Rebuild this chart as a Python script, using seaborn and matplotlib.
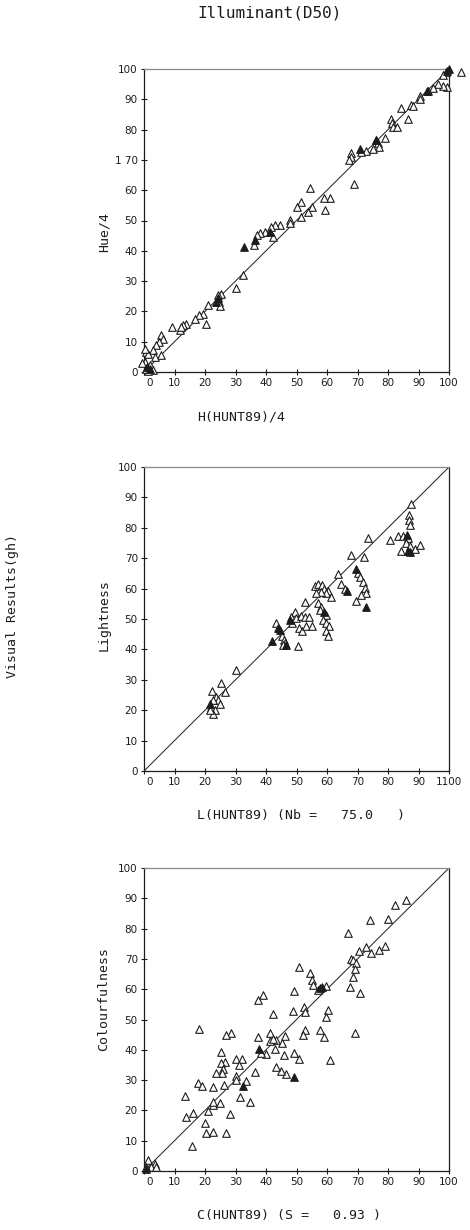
"""
Hunt89 colour appearance model vs. visual results, D50 illuminant.
Three stacked scatter panels: hue, lightness, colourfulness.
"""
import matplotlib
matplotlib.use('Agg')
import matplotlib.pyplot as plt
import matplotlib.transforms as mtransforms
import pandas as pd
import seaborn as sns

# axis ticks / labels
TICKS = list(range(0, 101, 10))
DIAG = [0, 100]
X_LABELS = [str(t) for t in TICKS]
X_LABELS_L = X_LABELS[:-1] + ['1100']
Y_LABELS = [str(t) for t in TICKS]
Y_LABELS_H = Y_LABELS[:7] + ['1 70'] + Y_LABELS[8:]

# Hue panel (H(HUNT89)/4 vs Hue/4)
HUE_X = [104, 99, 98, 99.5, 98, 96.4, 94.8, 93, 90.4, 90.4,
         87.6, 88.2, 84.4, 86.6, 80.9, 81.2, 81.6, 83, 78.9, 76.2,
         76.7, 77.2, 75, 72.9, 71, 68, 68, 67.3, 69, 60.9,
         58.9, 59.2, 54.3, 51.4, 50, 55, 53.8, 51.6, 47.8, 44.5,
         42.8, 41.7, 42.3, 39.6, 37.9, 36.9, 32.5, 30.3, 25.4, 24.6,
         24.8, 21, 20.2, 19.3, 18, 16.6, 13.9, 12.8, 11.7, 9.3,
         5.7, 6.2, 4.9, 4, 3, 0.8, 1.3, 5.7, 3.5, 0.2,
         1.9, 3, 1.3, -0.5, 12.2, 24.3, 47.8, 36, 0.3, 0.8]
HUE_Y = [99, 98.9, 98.1, 94, 94.5, 95.1, 93.7, 92.6, 91, 90.1,
         88, 87.7, 87.1, 83.4, 83.4, 82.1, 81, 81, 77.2, 76.6,
         75.5, 74.2, 73.5, 73.1, 72.5, 72.4, 71.1, 70, 62, 57.3,
         57.3, 53.5, 60.6, 56.2, 54.6, 54.6, 52.9, 51.3, 50.2, 48.5,
         48.5, 48, 44.7, 46.3, 45.8, 45.2, 32, 27.6, 25.9, 23.2,
         21.7, 22, 16, 19.3, 18.7, 17.6, 16, 15.4, 13.8, 14.9,
         12.1, 11, 9.9, 8.8, 7.4, 6.6, 6.1, 5.5, 5, 3.3,
         2.2, 0.8, 0.3, 3, 14.9, 25.4, 49.1, 41.9, 7.6, 1.1]
HUE_SOLID_X = [100, 99.5, 92.7, 76, 70.7, 41.2, 36.3, 32.7, 24.3, 23.7, 1, 2]
HUE_SOLID_Y = [100, 99.2, 92.8, 76.6, 73.5, 46.3, 43.5, 41.3, 24.3, 23.2, 1.5, 1]

# Lightness panel
LIG_X = [63.6, 64.7, 65.8, 70.2, 70.9, 71.8, 72.4, 72.9, 71.3, 69.6,
         56, 57.1, 58.5, 58.9, 60.3, 61.4, 59.8, 58.1, 56.3, 57.1,
         58.1, 57.8, 59.6, 58.7, 59.8, 60.7, 59.8, 60.3, 52.7, 49.4,
         48.3, 48.6, 49.9, 51.6, 52.7, 54.1, 50.8, 51.8, 53.2, 55.2,
         50.5, 43.4, 45.4, 45.8, 46.2, 45.6, 30.3, 26.4, 25.3, 22.3,
         23.7, 24.3, 24.8, 22.6, 22.1, 23.2, 22.6, 21.5, 87.7, 87,
         87, 87.1, 83.3, 84.9, 86.5, 85.8, 87.1, 88.7, 90.6, 84.4,
         80.5, 73.4, 68, 72.1]
LIG_Y = [64.8, 61.5, 59.8, 65, 63.7, 62.3, 60.1, 58.7, 57.9, 56,
         60.7, 61.5, 61.2, 59.8, 59.3, 57.1, 58.5, 59, 58.5, 55.2,
         54.1, 53, 51.3, 49.7, 48.8, 47.7, 46.2, 44.4, 55.7, 52.4,
         50.8, 48.8, 50.2, 51, 50.8, 50.5, 46.9, 46.2, 47.7, 47.7,
         41.1, 48.8, 44.4, 43.1, 42, 41.4, 33.2, 26, 29, 26.3,
         24.4, 23.5, 22.2, 23.3, 21.1, 20, 18.9, 20, 87.7, 84.1,
         82.7, 80.9, 77.2, 77.2, 76.5, 75.1, 74, 72.9, 74.2, 72.4,
         76.1, 76.5, 71, 70.5]
LIG_SOLID_X = [66.6, 69.4, 72.9, 58.9, 47.8, 43.9, 44.5, 46.7, 42, 21.8, 86.2, 87.1, 86.5]
LIG_SOLID_Y = [59.3, 66.4, 53.8, 52.4, 49.7, 46.9, 46.4, 41.4, 42.7, 22.2, 77.6, 72.1, 72.3]

# Colourfulness panel
COL_X = [86, 82.2, 80, 74.2, 67, 68, 70.5, 72.9, 74.5, 77,
         79.1, 68.5, 69.4, 69.1, 68.5, 67.4, 70.7, 69.1, 59.8, 60.3,
         59.8, 58.9, 57.6, 60.9, 57.1, 54.5, 55.1, 55.4, 50.7, 49.2,
         48.9, 52.4, 52.7, 52.7, 52.1, 49.1, 50.7, 46.7, 45, 43.4,
         45.9, 45.4, 46.1, 43.4, 42.8, 42.3, 41.2, 41.4, 42.3, 40.1,
         39, 37.4, 37.4, 38.5, 36.3, 33.5, 31.4, 34.6, 30, 32,
         31.1, 30.2, 30.2, 28.6, 26.8, 25.4, 26.4, 25.4, 25.9, 25.7,
         23.5, 26.1, 22.6, 18, 17.7, 19.1, 13.3, 13.9, 16.1, 21,
         22.6, 22.6, 24.8, 28.3, 19.9, 20.2, 22.6, 26.8, 15.8, 1.3,
         3.5, 2.4, 0.8, 4]
COL_Y = [89.3, 87.7, 83.1, 83, 78.4, 70.1, 72.6, 74, 72, 72.9,
         74.3, 69.6, 68.5, 66.8, 64.1, 60.8, 58.8, 45.4, 61, 53.3,
         50.9, 44.1, 46.5, 36.6, 59.9, 65.4, 63.2, 61.3, 67.4, 59.5,
         52.9, 54.2, 52.5, 46.5, 44.8, 39, 36.8, 32, 33.1, 34.4,
         38.2, 42.3, 44.6, 43.2, 40.1, 51.8, 45.4, 43, 43.7, 38.5,
         58, 56.4, 44.1, 38.8, 32.7, 29.7, 24.5, 22.9, 37.1, 36.8,
         34.9, 31.3, 30, 45.6, 44.8, 39.3, 36, 35.5, 33.8, 32.2,
         32.4, 28.4, 27.6, 46.7, 29.1, 28, 24.7, 17.7, 19.2, 19.9,
         21.8, 22.9, 22.5, 18.8, 15.7, 12.4, 12.9, 12.4, 8.2, 3.6,
         2.3, 1.4, 1.4, 1.4]
COL_SOLID_X = [57.6, 58.3, 49.2, 37.7, 32.5, 0.8]
COL_SOLID_Y = [60.4, 60.8, 31.1, 40.1, 28, 0.5]

TITLE = 'Illuminant(D50)'
SIDE_LABEL = 'Visual Results(gh)'
X_TITLES = ['H(HUNT89)/4', 'L(HUNT89) (Nb =   75.0   )', 'C(HUNT89) (S =   0.93 )']
Y_TITLES = ['Hue/4', 'Lightness', 'Colourfulness']

sns.set_style('ticks')
plt.rcParams['font.family'] = ['DejaVu Sans Mono', 'DejaVu Sans']

INK = '#1c1c1c'
W, H = 470, 1230
fig = plt.figure(figsize=(W / 100, H / 100), dpi=100)

# pixel geometry of each panel: (top, bottom)
panels = [
    (69, 372, HUE_X, HUE_Y, HUE_SOLID_X, HUE_SOLID_Y, X_LABELS, Y_LABELS_H),
    (467, 771, LIG_X, LIG_Y, LIG_SOLID_X, LIG_SOLID_Y, X_LABELS_L, Y_LABELS),
    (868, 1171, COL_X, COL_Y, COL_SOLID_X, COL_SOLID_Y, X_LABELS, Y_LABELS),
]
left, right = 144, 449
shift = mtransforms.ScaledTranslation(6 / 100, 0, fig.dpi_scale_trans)

for i, (top, bot, xs, ys, sx, sy, xl, yl) in enumerate(panels):
    ax = fig.add_axes([left / W, 1 - bot / H, (right - left) / W, (bot - top) / H])
    open_df = pd.DataFrame({'x': xs, 'y': ys})
    solid_df = pd.DataFrame({'x': sx, 'y': sy})

    sns.lineplot(x=DIAG, y=DIAG, color=INK, lw=0.7, ax=ax)
    sns.scatterplot(data=open_df, x='x', y='y', marker='^', s=30, color='white',
                    edgecolor=INK, linewidth=0.8, clip_on=False, zorder=3, ax=ax)
    sns.scatterplot(data=solid_df, x='x', y='y', marker='^', s=30, color=INK,
                    edgecolor=INK, linewidth=0.8, clip_on=False, zorder=4, ax=ax)

    ax.set_xlim(0, 100)
    ax.set_ylim(0, 100)
    ax.set_xlabel('')
    ax.set_ylabel('')
    ax.set_xticks(TICKS)
    ax.set_xticklabels(xl, family='DejaVu Sans')
    ax.set_yticks(TICKS)
    ax.set_yticklabels(yl, family='DejaVu Sans')
    ax.tick_params(direction='inout', length=5, width=0.8, labelsize=7.5,
                   colors=INK, pad=2)
    lbl = ax.get_xticklabels()[0]
    lbl.set_transform(lbl.get_transform() + shift)

    for side, sp in ax.spines.items():
        sp.set_visible(True)
        sp.set_linewidth(0.9)
        sp.set_color('#8a8a8a' if side == 'top' else INK)

    fig.text(197 / W, 1 - (bot + 45) / H, X_TITLES[i], ha='left', va='center',
             fontsize=9.5, color=INK)
    fig.text(104 / W, 1 - (bot - 120) / H, Y_TITLES[i], rotation=90,
             ha='center', va='bottom', fontsize=9.5, color=INK)

fig.text(197 / W, 1 - 13 / H, TITLE, ha='left', va='center', fontsize=11.5, color=INK)
fig.text(13 / W, 1 - 606 / H, SIDE_LABEL, rotation=90, ha='center', va='center',
         fontsize=9.5, color=INK)

fig.savefig('out.png', dpi=100)
